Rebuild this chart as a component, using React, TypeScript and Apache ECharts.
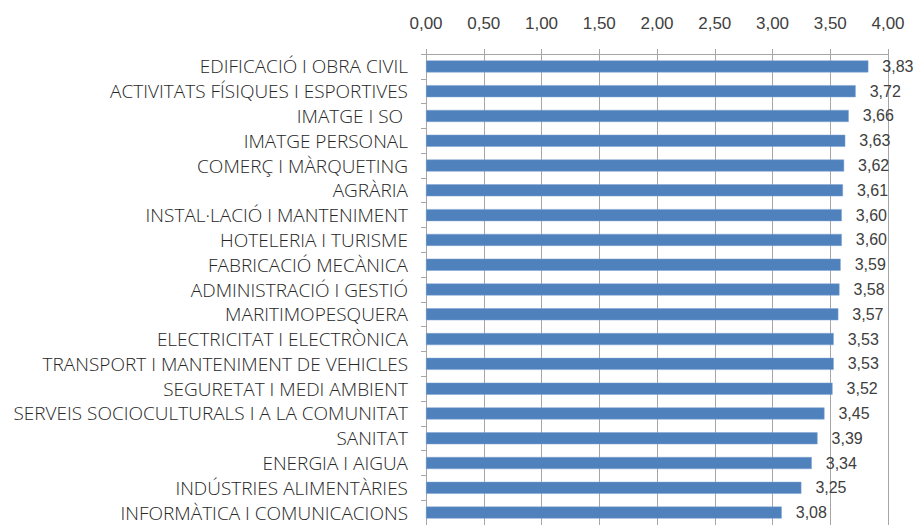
import React, { useEffect, useRef } from "react";
import * as echarts from "echarts";

const categories = [
  "EDIFICACIÓ I OBRA CIVIL",
  "ACTIVITATS FÍSIQUES I ESPORTIVES",
  "IMATGE I SO ",
  "IMATGE PERSONAL",
  "COMERÇ I MÀRQUETING",
  "AGRÀRIA",
  "INSTAL·LACIÓ I MANTENIMENT",
  "HOTELERIA I TURISME",
  "FABRICACIÓ MECÀNICA",
  "ADMINISTRACIÓ I GESTIÓ",
  "MARITIMOPESQUERA",
  "ELECTRICITAT I ELECTRÒNICA",
  "TRANSPORT I MANTENIMENT DE VEHICLES",
  "SEGURETAT I MEDI AMBIENT",
  "SERVEIS SOCIOCULTURALS I A LA COMUNITAT",
  "SANITAT",
  "ENERGIA I AIGUA",
  "INDÚSTRIES ALIMENTÀRIES",
  "INFORMÀTICA I COMUNICACIONS",
];

const values = [
  3.83, 3.72, 3.66, 3.63, 3.62, 3.61, 3.6, 3.6, 3.59, 3.58, 3.57, 3.53, 3.53,
  3.52, 3.45, 3.39, 3.34, 3.25, 3.08,
];

const axisMin = 0;
const axisMax = 4;
const axisStep = 0.5;

const fmt = (v: number) => v.toFixed(2).replace(".", ",");

export default function App() {
  const ref = useRef<HTMLDivElement>(null);
  useEffect(() => {
    if (!ref.current) return;
    const chart = echarts.init(ref.current, undefined, { renderer: "svg" });
    chart.setOption({
      animation: false,
      backgroundColor: "#ffffff",
      grid: { left: 426, top: 54, width: 462, height: 472, containLabel: false },
      xAxis: {
        type: "value",
        position: "top",
        min: axisMin,
        max: axisMax,
        interval: axisStep,
        axisLine: { show: true, lineStyle: { color: "#a6a6a6", width: 1 } },
        axisTick: { show: true, length: 5, lineStyle: { color: "#a6a6a6" } },
        splitLine: { show: true, lineStyle: { color: "#a6a6a6", width: 1 } },
        axisLabel: {
          margin: 22,
          formatter: (v: number) => fmt(v),
          fontFamily: "Liberation Sans, Arial, sans-serif",
          fontSize: 17,
          color: "#404040",
        },
      },
      yAxis: {
        type: "category",
        data: categories,
        inverse: true,
        axisLine: { show: true, lineStyle: { color: "#a6a6a6", width: 1 } },
        axisTick: { show: true, length: 5, lineStyle: { color: "#a6a6a6" } },
        axisLabel: {
          margin: 18,
          fontFamily: "Open Sans, sans-serif",
          fontSize: 19,
          fontWeight: 300,
          color: "#262626",
        },
      },
      series: [
        {
          type: "bar",
          data: values,
          barWidth: 12,
          itemStyle: { color: "#4f81bd", borderColor: "#7ea3d3", borderWidth: 0.5 },
          label: {
            show: true,
            position: "right",
            distance: 14,
            formatter: (p: any) => fmt(p.value),
            fontFamily: "Liberation Sans, Arial, sans-serif",
            fontSize: 16,
            color: "#404040",
          },
        },
      ],
    });
    return () => chart.dispose();
  }, []);
  return (
    <div
      ref={ref}
      style={{ position: "fixed", left: 0, top: 0, width: 918, height: 525 }}
    />
  );
}
